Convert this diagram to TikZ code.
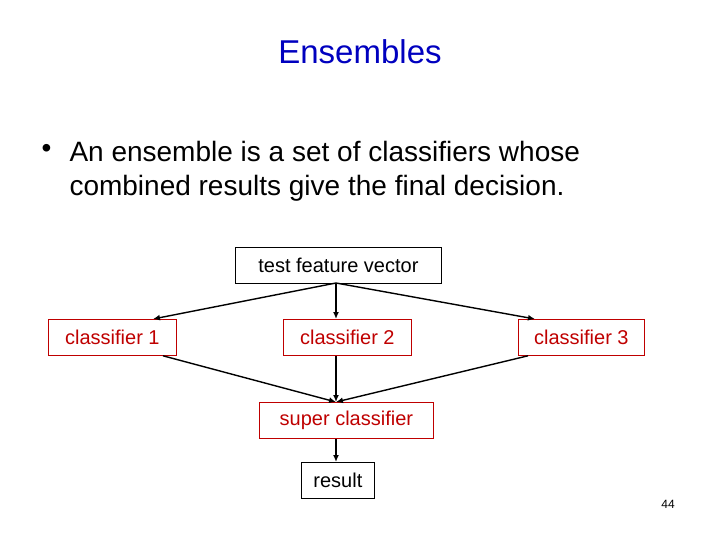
\documentclass[tikz,border=0pt]{standalone}
\usepackage{fontspec}
\usetikzlibrary{arrows.meta}
\setmainfont{Liberation Sans}
\begin{document}
\begin{tikzpicture}[x=1pt,y=-1pt,
  box/.style={draw=#1,line width=0.8pt,minimum height=36pt,inner sep=0pt,font=\fontsize{20}{22}\selectfont,anchor=north west},
  arr/.style={-{Latex[length=7pt,width=6pt]},line width=1.4pt}]
\useasboundingbox (0,0) rectangle (720,540);
\node[text=blue!75!black,font=\fontsize{33}{36}\selectfont] (title) at (360,52) {Ensembles};
\node[anchor=west,font=\fontsize{28}{30}\selectfont] (b) at (38,151) {•};
\node[anchor=west,font=\fontsize{28}{30}\selectfont,align=left] (t1) at (66,151) {An ensemble is a set of classifiers whose};
\node[anchor=west,font=\fontsize{28}{30}\selectfont,align=left] (t2) at (66,188) {combined results give the final decision.};
\node[box=black,minimum width=206pt] (tfv) at (235,247) {test feature vector};
\node[box=red!75!black,text=red!75!black,minimum width=128pt] (c1) at (48,319) {classifier 1};
\node[box=red!75!black,text=red!75!black,minimum width=128pt] (c2) at (283,319) {classifier 2};
\node[box=red!75!black,text=red!75!black,minimum width=126pt] (c3) at (518,319) {classifier 3};
\node[box=red!75!black,text=red!75!black,minimum width=174pt] (sc) at (259,402) {super classifier};
\node[box=black,minimum width=73pt] (res) at (301,462) {result};
\coordinate (tb) at (336,283);
\coordinate (st) at (336,402);
\draw[arr] (tb) -- (c1.north west -| 153,0);
\draw[arr] (tb) -- (c2.north west -| 336,0);
\draw[arr] (tb) -- (c3.north west -| 535,0);
\draw[arr] (c1.south west -| 163,0) -- (st);
\draw[arr] (c2.south west -| 336,0) -- (st);
\draw[arr] (c3.south west -| 528,0) -- (st);
\draw[arr] (sc.south west -| 336,0) -- (res.north west -| 336,0);
\node[font=\fontsize{12}{13}\selectfont] (pg) at (668,504) {44};
\end{tikzpicture}
\end{document}
